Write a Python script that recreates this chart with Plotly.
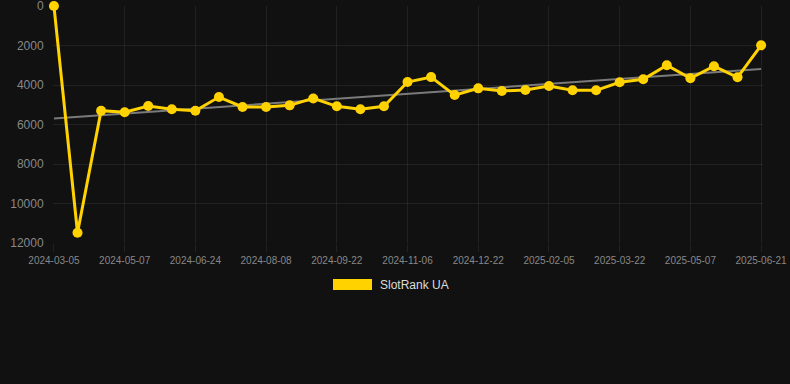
import numpy as np
import plotly.graph_objects as go

tick_labels = ["2024-03-05", "2024-05-07", "2024-06-24", "2024-08-08", "2024-09-22",
               "2024-11-06", "2024-12-22", "2025-02-05", "2025-03-22", "2025-05-07",
               "2025-06-21"]
y_ticks = [0, 2000, 4000, 6000, 8000, 10000, 12000]
rank_values = [0, 11480, 5300, 5380, 5060, 5230, 5300, 4610, 5110, 5110,
               5030, 4680, 5080, 5230, 5080, 3850, 3600, 4510, 4170, 4300,
               4250, 4050, 4270, 4270, 3860, 3710, 3000, 3660, 3050, 3610,
               1990]
series_name = "SlotRank UA"

idx = np.arange(len(rank_values))
tick_idx = list(range(0, len(rank_values), 3))

slope, intercept = np.polyfit(idx, rank_values, 1)
trend = slope * idx + intercept

BG = "#111111"
GRID = "rgba(255,255,255,0.07)"
GOLD = "#FFD200"
FONT = "Liberation Sans, Arial, sans-serif"

fig = go.Figure()
fig.add_trace(go.Scatter(
    x=[idx[0], idx[-1]], y=[trend[0], trend[-1]], mode="lines",
    line=dict(color="#7a7a7a", width=2), hoverinfo="skip", showlegend=False,
    cliponaxis=False))
fig.add_trace(go.Scatter(
    x=idx, y=rank_values, mode="lines+markers", name=series_name,
    line=dict(color=GOLD, width=3), marker=dict(color=GOLD, size=10),
    showlegend=False, cliponaxis=False))

# legend (drawn manually as box + text)
L, R, T, B = 53, 763, 6, 243
W, H = R - L, B - T
def px(x): return (x - L) / W
def py(y): return (B - y) / H

fig.add_shape(type="rect", xref="paper", yref="paper",
              x0=px(333), x1=px(372), y0=py(290), y1=py(279),
              fillcolor=GOLD, line=dict(width=0))
fig.add_annotation(xref="paper", yref="paper", x=px(378), y=py(285),
                   text=series_name, showarrow=False, xanchor="left", yanchor="middle",
                   font=dict(color="#dddddd", size=12, family=FONT))

fig.update_layout(
    width=790, height=384,
    paper_bgcolor=BG, plot_bgcolor=BG,
    margin=dict(l=L, r=790 - R, t=T, b=384 - B, autoexpand=False),
    font=dict(family=FONT, color="#888888"),
    xaxis=dict(
        range=[-0.04, 30.08], tickmode="array", tickvals=tick_idx, ticktext=tick_labels,
        showgrid=True, gridcolor=GRID, zeroline=False, showline=False,
        ticks="outside", ticklen=8, tickcolor=GRID, tickfont=dict(size=10, color="#888888"),
        ticklabeloverflow="allow", automargin=False,
    ),
    yaxis=dict(
        range=[12000, 0], tickmode="array", tickvals=y_ticks,
        ticktext=[str(v) for v in y_ticks],
        showgrid=True, gridcolor=GRID, zeroline=False, showline=False,
        ticks="outside", ticklen=6, tickcolor="rgba(0,0,0,0)",
        tickfont=dict(size=12, color="#888888"),
        ticklabeloverflow="allow", automargin=False,
    ),
)

fig.write_html("out.html", config={"displayModeBar": False, "staticPlot": True})

with open("out.html", "r", encoding="utf-8") as f:
    html = f.read()
html = html.replace("<head>", "<head><style>html,body{margin:0;padding:0;background:#111111;overflow:hidden}</style>", 1)
with open("out.html", "w", encoding="utf-8") as f:
    f.write(html)
